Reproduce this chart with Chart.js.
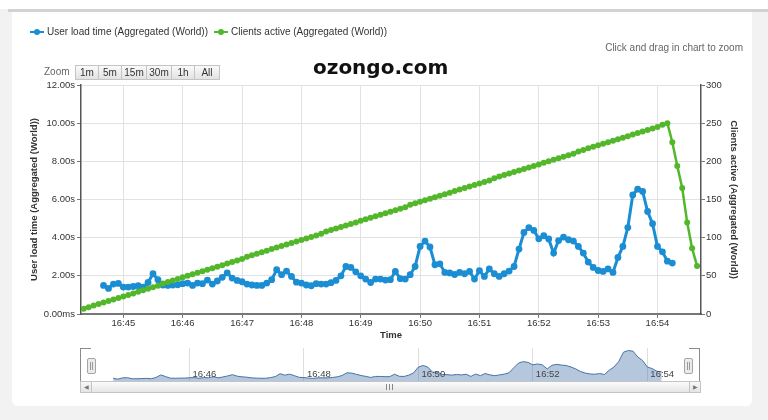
<!DOCTYPE html>
<html>
<head>
<meta charset="utf-8">
<script src="https://cdn.jsdelivr.net/npm/chart.js@4.4.0/dist/chart.umd.min.js"></script>
<style>
  html, body { margin: 0; padding: 0; }
  body {
    width: 768px; height: 420px; position: relative; overflow: hidden;
    background: #f2f2f2;
    font-family: "Liberation Sans", Arial, sans-serif;
  }
  #topband { position: absolute; left: 0; top: 0; width: 768px; height: 9px; background: #fff; }
  #topline { position: absolute; left: 8px; top: 9px; width: 760px; height: 3px; background: #d2d2d2; }
  #card {
    position: absolute; left: 12px; top: 12px; width: 740px; height: 394px;
    background: #fff; border-radius: 0 0 6px 6px;
  }
  canvas { position: absolute; }
  .leg { position: absolute; top: 26px; font-size: 10px; color: #333; white-space: nowrap; line-height: 12px; }
  .mk { position: absolute; top: 5px; width: 14px; height: 2px; }
  .mk i { position: absolute; left: 4px; top: -2px; width: 6px; height: 6px; border-radius: 50%; }
  #hint { position: absolute; right: 25px; top: 42px; font-size: 10px; color: #666; }
  #zoomLbl { position: absolute; left: 44px; top: 66px; font-size: 10px; color: #666; }
  .btn {
    position: absolute; top: 65px; height: 13px; line-height: 13px; text-align: center;
    font-size: 10px; color: #333; border: 1px solid #c4c4c4;
    background: linear-gradient(#fafafa, #e2e2e2);
  }
  #mark { position: absolute; left: 313px; top: 55px; font: bold 20px "DejaVu Sans", sans-serif; color: #111; }
  .brk { position: absolute; top: 348px; width: 10px; height: 33px; border-top: 1px solid #8a8a8a; }
  .hdl {
    position: absolute; top: 358px; width: 7px; height: 14px; background: #ebebeb;
    border: 1px solid #a5a5a5; border-radius: 2px;
  }
  .hdl i { position: absolute; top: 3px; width: 1px; height: 8px; background: #999; }
  #track {
    position: absolute; left: 80px; top: 381px; width: 619px; height: 10px;
    background: #eeeeee; border: 1px solid #c4c4c4;
  }
  .arr {
    position: absolute; top: 381px; width: 10px; height: 10px; border: 1px solid #c4c4c4;
    background: linear-gradient(#f8f8f8, #e4e4e4); font-size: 6px; color: #777; text-align: center; line-height: 10px;
  }
  #thumb {
    position: absolute; left: 91px; top: 381px; width: 597px; height: 10px;
    border: 1px solid #c4c4c4; background: linear-gradient(#fbfbfb, #e6e6e6);
  }
  #grip { position: absolute; left: 386px; top: 384px; width: 7px; height: 6px; }
  #grip i { position: absolute; top: 0; width: 1px; height: 6px; background: #888; }
</style>
</head>
<body>
<div id="topband"></div>
<div id="topline"></div>
<div id="card"></div>

<canvas id="nav" width="619" height="33" style="left:81px; top:348px;"></canvas>
<canvas id="main" width="768" height="420" style="left:0; top:0;"></canvas>

<div class="leg" style="left:30px;"><span class="mk" style="left:0; background:#1b8ed3;"><i style="background:#1b8ed3;"></i></span><span style="margin-left:17px;">User load time (Aggregated (World))</span></div>
<div class="leg" style="left:214px;"><span class="mk" style="left:0; background:#52b72b;"><i style="background:#52b72b;"></i></span><span style="margin-left:17px;">Clients active (Aggregated (World))</span></div>
<div id="hint">Click and drag in chart to zoom</div>

<div id="zoomLbl">Zoom</div>
<div class="btn" style="left:75px; width:22px;">1m</div>
<div class="btn" style="left:98px; width:22px;">5m</div>
<div class="btn" style="left:121px; width:24px;">15m</div>
<div class="btn" style="left:146px; width:24px;">30m</div>
<div class="btn" style="left:171px; width:22px;">1h</div>
<div class="btn" style="left:194px; width:24px;">All</div>
<div id="mark">ozongo.com</div>

<div class="brk" style="left:80px; border-left:1px solid #8a8a8a;"></div>
<div class="brk" style="left:689px; border-right:1px solid #8a8a8a;"></div>
<div id="track"></div>
<div class="arr" style="left:80px;">&#9664;</div>
<div class="arr" style="left:689px;">&#9654;</div>
<div id="thumb"></div>
<div id="grip"><i style="left:0"></i><i style="left:3px"></i><i style="left:6px"></i></div>
<div class="hdl" style="left:87px;"><i style="left:2px"></i><i style="left:4px"></i></div>
<div class="hdl" style="left:684px;"><i style="left:2px"></i><i style="left:4px"></i></div>

<script>
// samples every 5 seconds, times in seconds after 16:00
const stepSec = 5;
const loadTimeStart = 2680; // 16:44:40
const clientsStart = 2660; // 16:44:20

// User load time, seconds
const loadTime = [
  1.50, 1.34, 1.57, 1.60, 1.41, 1.41, 1.44, 1.48, 1.41, 1.65,
  2.11, 1.80, 1.52, 1.50, 1.52, 1.53, 1.59, 1.62, 1.50, 1.62,
  1.59, 1.78, 1.57, 1.73, 1.92, 2.15, 1.88, 1.76, 1.69, 1.57,
  1.52, 1.50, 1.50, 1.62, 1.80, 2.32, 2.06, 2.25, 1.97, 1.67,
  1.62, 1.52, 1.48, 1.59, 1.57, 1.57, 1.64, 1.76, 2.00, 2.49,
  2.44, 2.21, 2.00, 1.83, 1.65, 1.83, 1.83, 1.78, 1.80, 2.23,
  1.85, 1.83, 2.06, 2.49, 3.54, 3.82, 3.51, 2.58, 2.63, 2.18,
  2.15, 2.07, 2.18, 2.11, 2.23, 1.83, 2.27, 1.97, 2.36, 2.11,
  1.97, 2.11, 2.25, 2.49, 3.40, 4.27, 4.53, 4.38, 3.94, 4.10,
  3.93, 3.19, 3.85, 4.03, 3.89, 3.82, 3.54, 3.19, 2.72, 2.44,
  2.28, 2.23, 2.36, 2.18, 2.96, 3.54, 4.53, 6.24, 6.54, 6.42,
  5.37, 4.73, 3.54, 3.26, 2.77, 2.67
];

// Clients active
const clientsActive = [
  7, 9, 11, 13, 15, 17, 19, 21, 23, 25,
  27, 29, 31, 33, 35, 37, 40, 42, 44, 46,
  48, 50, 52, 54, 56, 58, 60, 62, 64, 66,
  68, 70, 72, 75, 77, 79, 81, 83, 85, 87,
  89, 91, 93, 95, 97, 99, 101, 103, 105, 108,
  110, 112, 114, 116, 118, 120, 122, 124, 126, 128,
  130, 132, 134, 136, 138, 140, 143, 145, 147, 149,
  151, 153, 155, 157, 159, 161, 163, 165, 167, 169,
  171, 173, 175, 178, 180, 182, 184, 186, 188, 190,
  192, 194, 196, 198, 200, 202, 204, 206, 208, 210,
  213, 215, 217, 219, 221, 223, 225, 227, 229, 231,
  233, 235, 237, 239, 241, 243, 245, 248, 250,
  225, 194, 165, 120, 86, 63
];

const loadTicks = [0, 2, 4, 6, 8, 10, 12];
const clientTicks = [0, 50, 100, 150, 200, 250, 300];

const BLUE = "#1b8ed3";
const GREEN = "#52b72b";
const FONT = '"Liberation Sans", Arial, sans-serif';

Chart.defaults.font.family = FONT;
Chart.defaults.color = "#333";

function toPoints(start, values) {
  return values.map((v, i) => ({ x: (start + i * stepSec) / 60, y: v }));
}

function fmtMinute(v) {
  return "16:" + String(Math.round(v)).padStart(2, "0");
}

new Chart(document.getElementById("main"), {
  type: "line",
  data: {
    datasets: [
      {
        label: "User load time (Aggregated (World))",
        data: toPoints(loadTimeStart, loadTime),
        yAxisID: "y",
        borderColor: BLUE,
        backgroundColor: BLUE,
        pointBackgroundColor: BLUE,
        borderWidth: 3,
        pointRadius: 3.4,
        pointBorderWidth: 0,
        tension: 0,
        order: 1,
      },
      {
        label: "Clients active (Aggregated (World))",
        data: toPoints(clientsStart, clientsActive),
        yAxisID: "y2",
        borderColor: GREEN,
        backgroundColor: GREEN,
        pointBackgroundColor: GREEN,
        borderWidth: 2.5,
        pointRadius: 3,
        pointBorderWidth: 0,
        tension: 0,
        order: 0,
      },
    ],
  },
  options: {
    responsive: false,
    animation: false,
    events: [],
    layout: { padding: { top: 85, left: 0, right: 0, bottom: 0 } },
    plugins: { legend: { display: false }, tooltip: { enabled: false } },
    scales: {
      x: {
        type: "linear",
        min: 44.287,
        max: 54.733,
        afterFit: (s) => { s.height = 106; },
        ticks: {
          stepSize: 1,
          includeBounds: false,
          autoSkip: false,
          maxRotation: 0,
          padding: 0,
          font: { size: 9.5 },
          color: "#333",
          callback: (v) => fmtMinute(v),
        },
        grid: { color: "#e2e2e2", tickLength: 4, tickColor: "#777" },
        border: { color: "#777", width: 2 },
        title: {
          display: true,
          text: "Time",
          color: "#333",
          font: { size: 9.5, weight: "bold" },
          padding: { top: 0, bottom: 79 },
        },
      },
      y: {
        position: "left",
        min: 0,
        max: 12,
        afterFit: (s) => { s.width = 81; },
        afterBuildTicks: (s) => { s.ticks = loadTicks.map((v) => ({ value: v })); },
        ticks: {
          padding: 2,
          font: { size: 9.5 },
          color: "#333",
          callback: (v) => (v === 0 ? "0.00ms" : v.toFixed(2) + "s"),
        },
        grid: { color: "#e2e2e2", tickLength: 4, tickColor: "#777" },
        border: { color: "#555", width: 1.5 },
        title: {
          display: true,
          text: "User load time (Aggregated (World))",
          color: "#333",
          font: { size: 9.5, weight: "bold" },
          padding: { top: 29, bottom: 0 },
        },
      },
      y2: {
        position: "right",
        min: 0,
        max: 300,
        afterFit: (s) => { s.width = 67; },
        afterBuildTicks: (s) => { s.ticks = clientTicks.map((v) => ({ value: v })); },
        ticks: { padding: 1, font: { size: 9.5 }, color: "#333" },
        grid: { drawOnChartArea: false, tickLength: 4, tickColor: "#777" },
        border: { color: "#555", width: 1.5 },
        title: {
          display: true,
          text: "Clients active (Aggregated (World))",
          color: "#333",
          font: { size: 9.5, weight: "bold" },
          padding: { top: 29, bottom: 0 },
        },
      },
    },
  },
});

// navigator labels sit inside the plot, just right of each grid line
const navLabels = {
  id: "navLabels",
  afterDatasetsDraw(chart) {
    const { ctx } = chart;
    const xs = chart.scales.x;
    ctx.save();
    ctx.font = "9.5px " + FONT;
    ctx.fillStyle = "#444";
    ctx.textBaseline = "alphabetic";
    xs.ticks.forEach((t) => {
      ctx.fillText(fmtMinute(t.value), xs.getPixelForValue(t.value) + 3, 29);
    });
    ctx.restore();
  },
};

new Chart(document.getElementById("nav"), {
  type: "line",
  data: {
    datasets: [
      {
        data: toPoints(loadTimeStart, loadTime),
        borderColor: "#4572a7",
        borderWidth: 1,
        backgroundColor: "rgba(69,114,167,0.4)",
        fill: "start",
        pointRadius: 0,
        tension: 0,
      },
    ],
  },
  options: {
    responsive: false,
    animation: false,
    events: [],
    layout: { padding: 0 },
    plugins: { legend: { display: false }, tooltip: { enabled: false } },
    scales: {
      x: {
        type: "linear",
        min: 44.105,
        max: 54.92,
        afterFit: (s) => { s.height = 0; },
        ticks: { display: false, stepSize: 2, includeBounds: false },
        grid: { color: "#dedede", drawTicks: false },
        border: { display: false },
      },
      y: { display: false, min: 1.0, max: 7.0 },
    },
  },
  plugins: [navLabels],
});
</script>
</body>
</html>
